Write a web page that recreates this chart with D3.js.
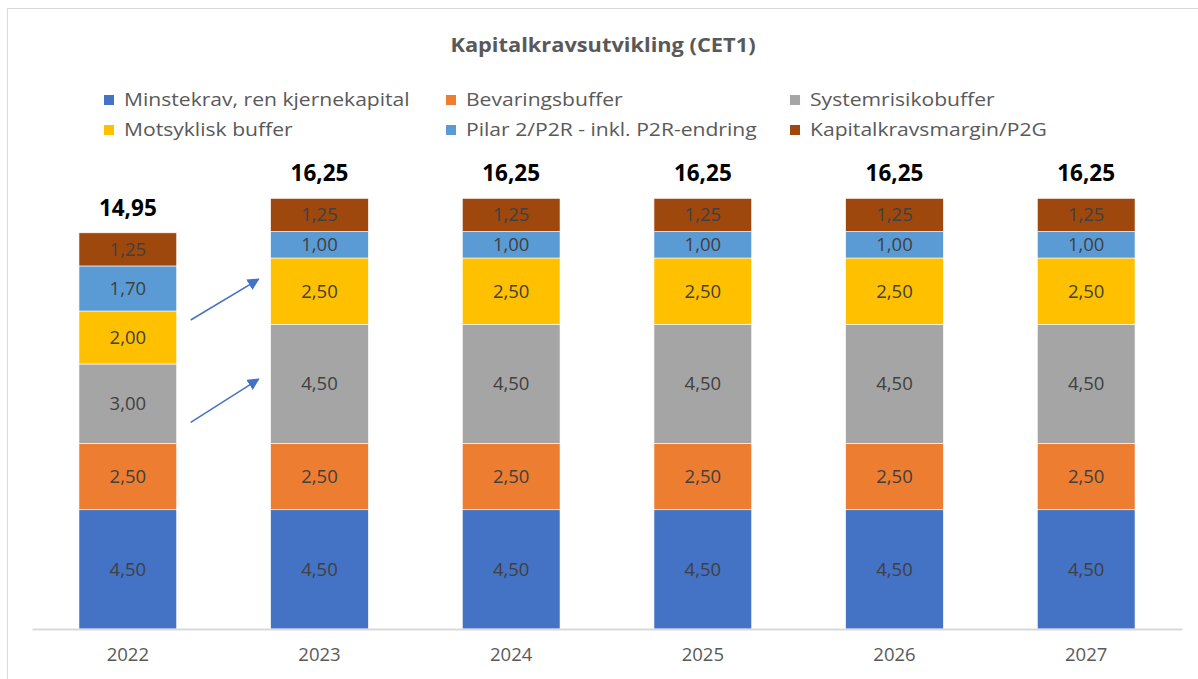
<!DOCTYPE html>
<html lang="no">
<head>
<meta charset="UTF-8">
<title>Kapitalkravsutvikling (CET1)</title>
<style>
  html, body { margin: 0; padding: 0; background: #fff; }
  svg { display: block; font-family: "Open Sans", "Noto Sans", sans-serif; }
</style>
</head>
<body>
<script src="https://cdn.jsdelivr.net/npm/d3@7"></script>
<script>
// data
const years = ['2022', '2023', '2024', '2025', '2026', '2027']
const seriesNames = [
  'Minstekrav, ren kjernekapital',
  'Bevaringsbuffer',
  'Systemrisikobuffer',
  'Motsyklisk buffer',
  'Pilar 2/P2R - inkl. P2R-endring',
  'Kapitalkravsmargin/P2G'
]
const minstekrav = [4.5, 4.5, 4.5, 4.5, 4.5, 4.5]
const bevaring = [2.5, 2.5, 2.5, 2.5, 2.5, 2.5]
const systemrisiko = [3.0, 4.5, 4.5, 4.5, 4.5, 4.5]
const motsyklisk = [2.0, 2.5, 2.5, 2.5, 2.5, 2.5]
const pilar2 = [1.7, 1.0, 1.0, 1.0, 1.0, 1.0]
const margin = [1.25, 1.25, 1.25, 1.25, 1.25, 1.25]
const colors = ['#4472C4', '#ED7D31', '#A5A5A5', '#FFC000', '#5B9BD5', '#9E480E']

// annotation arrows: from 2022 to 2023, at these values on the stack
const arrows = [
  { from: 11.66, to: 13.2 },
  { from: 7.8, to: 9.43 }
]

const W = 1198, H = 679
const fmt = v => d3.format('.2f')(v).replace('.', ',')

// widen text a little (the original font is wider than what we have)
function stretch(sel, k) {
  sel.each(function () {
    const len = this.getComputedTextLength()
    d3.select(this).attr('textLength', len * k).attr('lengthAdjust', 'spacingAndGlyphs')
  })
}

const table = years.map((y, i) => ({
  year: y,
  s0: minstekrav[i], s1: bevaring[i], s2: systemrisiko[i],
  s3: motsyklisk[i], s4: pilar2[i], s5: margin[i]
}))
const keys = ['s0', 's1', 's2', 's3', 's4', 's5']
const stacked = d3.stack().keys(keys)(table)

const svg = d3.select('body').append('svg')
  .attr('width', W).attr('height', H)

// chart border
svg.append('rect')
  .attr('x', 7.5).attr('y', 8.5)
  .attr('width', W + 10).attr('height', H + 10)
  .attr('fill', '#fff').attr('stroke', '#d9d9d9')

svg.append('text')
  .attr('x', 603).attr('y', 52)
  .attr('text-anchor', 'middle')
  .attr('font-size', 20).attr('font-weight', 'bold')
  .attr('fill', '#595959')
  .text('Kapitalkravsutvikling (CET1)')
  .call(stretch, 1.09)

// legend
const legendX = [104, 446, 790]
const legendY = [100, 130]
const legend = svg.append('g')
seriesNames.forEach((name, i) => {
  const lx = legendX[i % 3], ly = legendY[Math.floor(i / 3)]
  legend.append('rect')
    .attr('x', lx).attr('y', ly - 5)
    .attr('width', 10).attr('height', 10)
    .attr('fill', colors[i])
  legend.append('text')
    .attr('x', lx + 20).attr('y', ly)
    .attr('dy', '0.35em')
    .attr('font-size', 18.5)
    .attr('fill', '#595959')
    .text(name)
    .call(stretch, 1.14)
})

const x = d3.scaleBand()
  .domain(years)
  .range([32, 1182])
  .paddingInner(0.49)
  .paddingOuter(0.245)

const y = d3.scaleLinear()
  .domain([0, 18])
  .range([629, 629 - 18 * 26.5])

const layers = svg.append('g').selectAll('g')
  .data(stacked)
  .enter()
  .append('g')
  .attr('fill', (_, i) => colors[i])

layers.selectAll('rect')
  .data(d => d)
  .enter()
  .append('rect')
  .attr('x', d => x(d.data.year))
  .attr('y', d => y(d[1]))
  .attr('width', x.bandwidth())
  .attr('height', d => y(d[0]) - y(d[1]))
  .attr('stroke', '#fff')
  .attr('stroke-width', 0.6)

layers.selectAll('text')
  .data(d => d)
  .enter()
  .append('text')
  .attr('x', d => x(d.data.year) + x.bandwidth() / 2)
  .attr('y', d => (y(d[0]) + y(d[1])) / 2)
  .attr('dy', '0.35em')
  .attr('text-anchor', 'middle')
  .attr('font-size', 18.5)
  .attr('fill', '#404040')
  .text(d => fmt(d[1] - d[0]))

// totals
const totals = table.map(d => keys.reduce((s, k) => s + d[k], 0))
svg.append('g').selectAll('text')
  .data(table)
  .enter()
  .append('text')
  .attr('x', d => x(d.year) + x.bandwidth() / 2)
  .attr('y', (_, i) => y(totals[i]) - 25)
  .attr('dy', '0.35em')
  .attr('text-anchor', 'middle')
  .attr('font-size', 22.5)
  .attr('font-weight', 'bold')
  .attr('fill', '#000')
  .text((_, i) => fmt(totals[i]))

// x axis
const axis = svg.append('g')
  .attr('transform', `translate(0, ${y(0)})`)
  .call(d3.axisBottom(x).tickSize(0).tickPadding(19))
axis.select('.domain').attr('stroke', '#d9d9d9').attr('stroke-width', 2)
axis.selectAll('text')
  .attr('font-size', 18.5)
  .attr('fill', '#595959')
  .attr('font-family', '"Open Sans", "Noto Sans", sans-serif')

// arrows
const defs = svg.append('defs')
defs.append('marker')
  .attr('id', 'head')
  .attr('viewBox', '0 0 10 10')
  .attr('refX', 9).attr('refY', 5)
  .attr('markerWidth', 8).attr('markerHeight', 8)
  .attr('orient', 'auto')
  .append('path')
  .attr('d', 'M0,0 L10,5 L0,10 z')
  .attr('fill', '#4472C4')

svg.append('g').selectAll('line')
  .data(arrows)
  .enter()
  .append('line')
  .attr('x1', x('2022') + x.bandwidth() + 14)
  .attr('y1', d => y(d.from))
  .attr('x2', x('2023') - 12)
  .attr('y2', d => y(d.to))
  .attr('stroke', '#4472C4')
  .attr('stroke-width', 1.5)
  .attr('marker-end', 'url(#head)')
</script>
</body>
</html>
